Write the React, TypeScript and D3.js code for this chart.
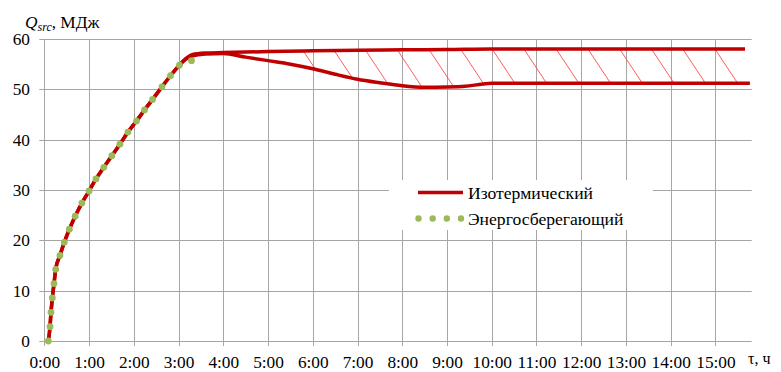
import React from "react";
import * as d3 from "d3";

// Rising part (shared by both modes) and green markers of the energy-saving mode
const dotTimes = [0.09, 0.128, 0.15, 0.18, 0.217, 0.255, 0.35, 0.447, 0.56, 0.69, 0.84, 1.0, 1.155, 1.33, 1.51, 1.69, 1.87, 2.06, 2.24, 2.42, 2.63, 2.82, 3.02, 3.29];
const dotValues = [0, 2.85, 5.7, 8.55, 11.4, 14.25, 17.0, 19.6, 22.2, 24.8, 27.4, 29.8, 32.2, 34.5, 36.8, 39.1, 41.5, 43.7, 45.9, 48.0, 50.5, 52.7, 54.8, 55.7];

// Isothermal (upper red line)
const isoTimes = [0.09, 0.128, 0.15, 0.18, 0.217, 0.255, 0.35, 0.447, 0.56, 0.69, 0.84, 1.0, 1.155, 1.33, 1.51, 1.69, 1.87, 2.06, 2.24, 2.42, 2.63, 2.82, 3.02, 3.15, 3.3, 3.6, 4.0, 5.0, 6.0, 7.0, 8.0, 9.0, 10.0, 15.66];
const isoValues = [0, 2.85, 5.7, 8.55, 11.4, 14.25, 17.0, 19.6, 22.2, 24.8, 27.4, 29.8, 32.2, 34.5, 36.8, 39.1, 41.5, 43.7, 45.9, 48.0, 50.5, 52.7, 54.8, 56.0, 56.9, 57.2, 57.3, 57.5, 57.65, 57.75, 57.85, 57.9, 58.0, 58.0];

// Energy-saving (lower red line)
const saveTimes = [0.09, 0.128, 0.15, 0.18, 0.217, 0.255, 0.35, 0.447, 0.56, 0.69, 0.84, 1.0, 1.155, 1.33, 1.51, 1.69, 1.87, 2.06, 2.24, 2.42, 2.63, 2.82, 3.02, 3.15, 3.3, 3.6, 4.0, 4.5, 5.0, 5.5, 6.0, 6.5, 7.0, 7.5, 8.0, 8.5, 9.0, 9.4, 9.8, 10.0, 15.77];
const saveValues = [0, 2.85, 5.7, 8.55, 11.4, 14.25, 17.0, 19.6, 22.2, 24.8, 27.4, 29.8, 32.2, 34.5, 36.8, 39.1, 41.5, 43.7, 45.9, 48.0, 50.5, 52.7, 54.8, 55.9, 56.6, 57.0, 57.1, 56.4, 55.7, 55.0, 54.1, 53.0, 52.0, 51.3, 50.7, 50.4, 50.45, 50.6, 51.05, 51.2, 51.2];

// Hatch lines between the curves (start times on the upper curve)
const hatchTimes = [5.79, 6.48, 7.18, 7.89, 8.6, 9.31, 10.01, 10.72, 11.44, 12.15, 12.86, 13.57, 14.27, 14.99];

const hourTicks = d3.range(0, 16);
const yTicks = [0, 10, 20, 30, 40, 50, 60];

const legendLabels = ["Изотермический", "Энергосберегающий"];

const W = 781;
const H = 372;
const RED = "#C00000";
const GREEN = "#9BBB59";
const GRID = "#A6A6A6";
const FONT = "Liberation Serif";
const FS = 17.3;

function T(props: any) {
  const { children, style, ...rest } = props;
  return (
    <text {...rest} fontFamily={FONT} style={{ fontFamily: FONT, ...(style || {}) }}>
      {children}
    </text>
  );
}

export default function App() {
  const x = d3.scaleLinear().domain([0, 15.81]).range([44.3, 751.7]);
  const y = d3.scaleLinear().domain([0, 60]).range([341, 39]);

  const iso: [number, number][] = isoTimes.map((t, i) => [t, isoValues[i]]);
  const save: [number, number][] = saveTimes.map((t, i) => [t, saveValues[i]]);
  const dots: [number, number][] = dotTimes.map((t, i) => [t, dotValues[i]]);

  const line = d3
    .line<[number, number]>()
    .x((d) => x(d[0]))
    .y((d) => y(d[1]))
    .curve(d3.curveMonotoneX);

  // clip polygon between curves
  const topPart = iso.filter((d) => d[0] >= 3.3);
  const botPart = save.filter((d) => d[0] >= 3.3);
  const clipD = (line(topPart) || "") + "L" + (line(botPart.slice().reverse()) || "").slice(1) + "Z";

  const interp = (arrT: number[], arrV: number[], t: number) => {
    const i = d3.bisectLeft(arrT, t);
    if (i <= 0) return arrV[0];
    if (i >= arrT.length) return arrV[arrV.length - 1];
    const t0 = arrT[i - 1], t1 = arrT[i];
    const f = (t - t0) / (t1 - t0);
    return arrV[i - 1] + f * (arrV[i] - arrV[i - 1]);
  };

  const slope = 0.663; // dx per dy in pixels

  const [x0, x1] = x.range();

  return (
    <svg
      width={W}
      height={H}
      fontFamily={FONT}
      style={{ position: "absolute", left: 0, top: 0, background: "#fff", fontFamily: FONT }}
    >
      <defs>
        <clipPath id="between">
          <path d={clipD} />
        </clipPath>
      </defs>
      <rect x={0} y={0} width={W} height={H} fill="#fff" />

      {/* horizontal grid */}
      {yTicks.map((v) => (
        <line key={"h" + v} x1={x0 - 5} x2={x1} y1={Math.round(y(v)) + 0.5} y2={Math.round(y(v)) + 0.5} stroke={GRID} strokeWidth={1} />
      ))}
      {/* vertical grid + ticks */}
      {hourTicks.map((h) => (
        <line key={"v" + h} x1={Math.round(x(h)) + 0.5} x2={Math.round(x(h)) + 0.5} y1={y(60)} y2={y(0) + 5} stroke={GRID} strokeWidth={1} />
      ))}

      {/* tick labels */}
      {yTicks.map((v) => (
        <T key={"yl" + v} x={30} y={y(v) + 6} textAnchor="end" fontSize={FS} fill="#000">
          {v}
        </T>
      ))}
      {hourTicks.map((h) => (
        <T key={"xl" + h} x={x(h) + 0.5} y={367.5} textAnchor="middle" fontSize={FS} fill="#000">
          {h + ":00"}
        </T>
      ))}

      {/* axis titles */}
      <T x={25} y={28} fontSize={FS} fill="#000">
        <tspan fontStyle="italic">Q</tspan>
        <tspan fontStyle="italic" fontSize={12} dy={3}>src</tspan>
        <tspan dy={-3}>, МДж</tspan>
      </T>
      <T x={748} y={364} fontSize={16} fill="#000">τ, ч</T>

      {/* hatch */}
      <g clipPath="url(#between)">
        {hatchTimes.map((t, i) => {
          const hx = x(t);
          const hy = y(interp(isoTimes, isoValues, t));
          return (
            <line
              key={"ht" + i}
              x1={hx - slope * 4}
              y1={hy - 4}
              x2={hx + slope * 60}
              y2={hy + 60}
              stroke="#FF4040"
              strokeOpacity={0.85}
              strokeWidth={1}
            />
          );
        })}
      </g>

      {/* lines */}
      <path d={line(save) || ""} fill="none" stroke={RED} strokeWidth={3.5} strokeLinejoin="round" />
      <path d={line(iso) || ""} fill="none" stroke={RED} strokeWidth={3.5} strokeLinejoin="round" />

      {/* green markers */}
      {dots.map((d, i) => (
        <circle key={"d" + i} cx={x(d[0])} cy={y(d[1])} r={3.4} fill={GREEN} />
      ))}

      {/* legend */}
      <rect x={389} y={180} width={264} height={50} fill="#fff" />
      <line x1={418} x2={463} y1={192.5} y2={192.5} stroke={RED} strokeWidth={3.5} />
      <T x={468} y={198.5} fontSize={17.6} fill="#000">{legendLabels[0]}</T>
      {[418.5, 432.7, 446.8, 461].map((cx, i) => (
        <circle key={"ld" + i} cx={cx} cy={218.5} r={3.2} fill={GREEN} />
      ))}
      <T x={468} y={224.5} fontSize={17.6} fill="#000">{legendLabels[1]}</T>
    </svg>
  );
}
